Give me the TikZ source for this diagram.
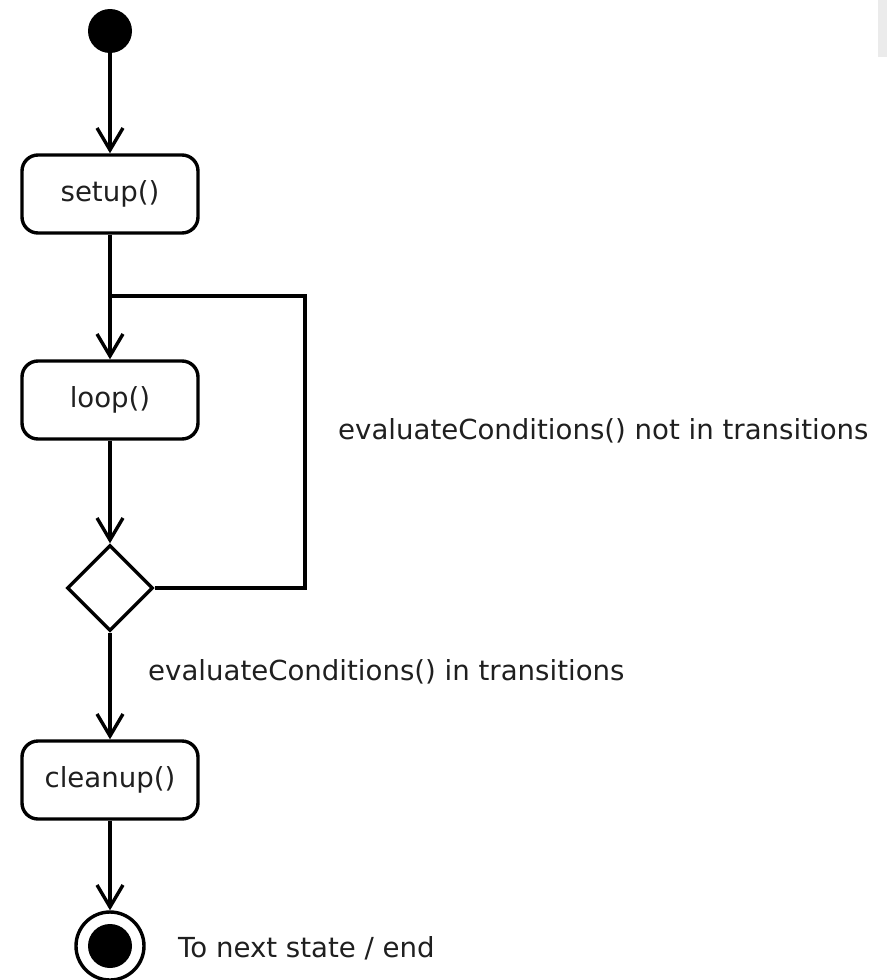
\documentclass[tikz,border=0pt]{standalone}
\usepackage{fontspec}
\setmainfont{DejaVu Sans}
\usetikzlibrary{arrows.meta,shapes.geometric}
\begin{document}
\begin{tikzpicture}[x=1pt,y=-1pt,
  every node/.style={font=\fontsize{27.6}{33}\selectfont,text=black!88},
  line/.style={line width=3.4pt},
  arr/.style={line width=3.4pt,-{Straight Barb[length=22pt,width=26pt,line width=3.4pt]}},
  actbox/.style={draw=black,line width=3.4pt,rounded corners=16pt,minimum width=176pt,minimum height=78pt,inner sep=0pt},
  choice/.style={draw=black,line width=3.4pt,diamond,minimum width=86pt,minimum height=86pt,inner sep=0pt},
  lbl/.style={anchor=west,inner sep=0pt}]
\useasboundingbox (0,0) rectangle (887,980);
\fill[black!8] (878,0) rectangle (887,57);
\node[fill=black,circle,minimum size=44pt,inner sep=0pt] (start) at (110,31) {};
\node[actbox] (setup) at (110,194) {setup()};
\node[actbox] (loop) at (110,400) {loop()};
\node[choice] (dec) at (110,588) {};
\node[actbox] (cleanup) at (110,780) {cleanup()};
\node[draw=black,circle,line width=3.4pt,minimum size=68pt,inner sep=0pt] (final) at (110,946) {};
\node[fill=black,circle,minimum size=44pt,inner sep=0pt] at (final.center) {};
\coordinate (j1) at (110,296);
\coordinate (j2) at (305,296);
\coordinate (j3) at (305,588);
\draw[arr] (start) -- (setup);
\draw[line] (setup) -- (j1);
\draw[arr] (j1) -- (loop);
\draw[arr] (loop) -- (dec);
\draw[line] (dec.east) -- (j3) -- (j2) -- (j1);
\draw[arr] (dec) -- (cleanup);
\draw[arr] (cleanup) -- (final);
\node[lbl] at (338,431) {evaluateConditions() not in transitions};
\node[lbl] at (148,672) {evaluateConditions() in transitions};
\node[lbl] at (178,948) {To next state / end};
\end{tikzpicture}
\end{document}
